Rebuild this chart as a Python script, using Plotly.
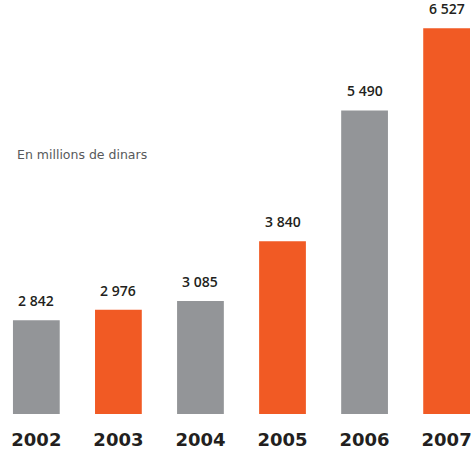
import plotly.graph_objects as go

years = ["2002", "2003", "2004", "2005", "2006", "2007"]
values = [2842, 2976, 3085, 3840, 5490, 6527]
value_labels = ["2 842", "2 976", "3 085", "3 840", "5 490", "6 527"]
colors = ["#939598", "#f15a24", "#939598", "#f15a24", "#939598", "#f15a24"]

idx = list(range(len(years)))

fig = go.Figure()
fig.add_trace(go.Bar(
    x=idx, y=values, marker=dict(color=colors, line=dict(width=0)),
    width=0.57, hoverinfo="skip",
))

for i, v, lab in zip(idx, values, value_labels):
    fig.add_annotation(x=i, y=v, xref="x", yref="y", text=lab, showarrow=False,
                       yanchor="bottom", xanchor="center", yshift=8,
                       font=dict(family="Open Sans", size=14, color="#231f20", weight=600))

fig.add_annotation(xref="paper", yref="paper", x=15/472, y=1 - 155/415,
                   text="En millions de dinars", showarrow=False, xanchor="left",
                   yanchor="middle", font=dict(family="DejaVu Sans", size=12.5, color="#58595b"))

fig.update_layout(
    width=472, height=450,
    margin=dict(l=0, r=0, t=0, b=35),
    paper_bgcolor="white", plot_bgcolor="white",
    showlegend=False,
    xaxis=dict(type="linear", range=[-0.443, 5.285], showgrid=False, zeroline=False,
               showline=False, ticks="", tickmode="array", tickvals=idx, ticktext=years,
               ticklabelstandoff=13, ticklabeloverflow="allow",
               tickfont=dict(family="DejaVu Sans", size=18, color="#231f20", weight="bold")),
    yaxis=dict(range=[1661, 6882], visible=False, showgrid=False, zeroline=False),
)

fig.write_html("out.html", config={"displayModeBar": False},
               post_script="document.body.style.margin='0';document.body.style.overflow='hidden';")
